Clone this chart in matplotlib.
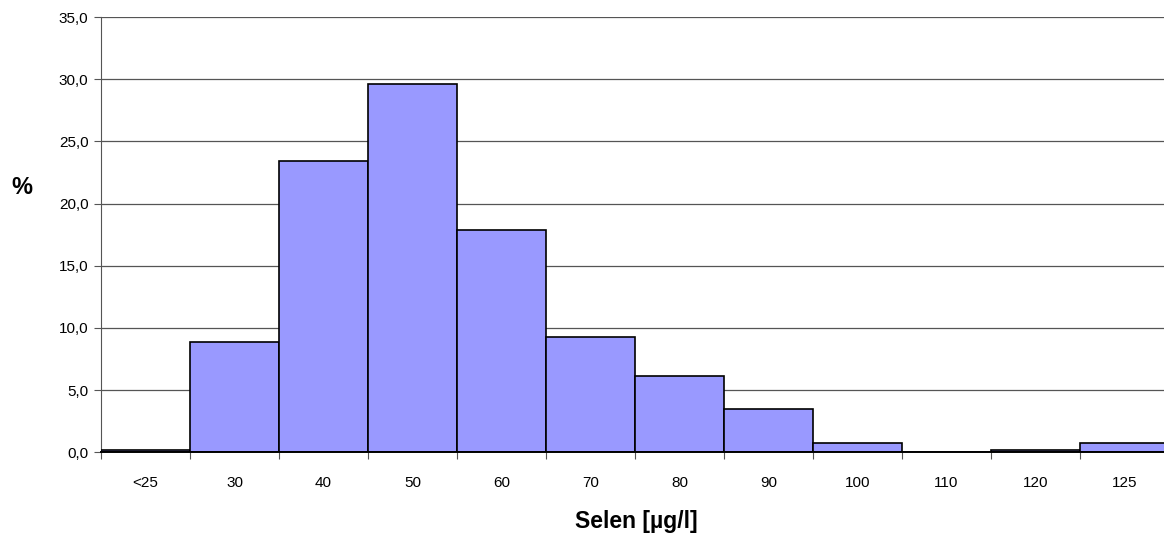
import matplotlib.pyplot as plt
from matplotlib.ticker import FixedLocator, FuncFormatter

plt.rcParams["font.family"] = ["Liberation Sans", "DejaVu Sans"]

# Anteil der Proben je Selen-Klasse
categories = ["<25", "30", "40", "50", "60", "70", "80", "90", "100", "110", "120", "125"]
percent = [0.2, 8.9, 23.4, 29.6, 17.9, 9.3, 6.1, 3.5, 0.7, 0.0, 0.2, 0.7]

BAR = "#9999FF"

fig = plt.figure(figsize=(11.64, 5.37), dpi=100, facecolor="white")
# Plotfläche läuft rechts etwas über den Bildrand hinaus
ax = fig.add_axes([0.0868, 0.158, 0.9175, 0.810])

x = list(range(len(categories)))
ax.bar(x, percent, width=1.0, color=BAR, edgecolor="black", linewidth=1.2, zorder=3)

ax.set_xlim(-0.5, len(categories) - 0.5)
ax.set_ylim(0, 35)
ax.yaxis.set_major_locator(FixedLocator([0, 5, 10, 15, 20, 25, 30, 35]))
ax.yaxis.set_major_formatter(FuncFormatter(lambda v, _: f"{v:.1f}".replace(".", ",")))
ax.grid(axis="y", color="#555555", linewidth=0.9, zorder=0)

# Kategorie-Beschriftungen mittig, Teilstriche an den Klassengrenzen
ax.set_xticks(x)
ax.set_xticklabels(categories)
ax.set_xticks([i - 0.5 for i in range(len(categories) + 1)], minor=True)
ax.tick_params(axis="x", which="major", length=0, pad=17, labelsize=11)
ax.tick_params(axis="x", which="minor", length=5, width=0.8, color="#555555")
ax.tick_params(axis="y", length=5, width=0.8, color="#555555", labelsize=11, pad=4)

for s in ("top", "right"):
    ax.spines[s].set_visible(False)
ax.spines["left"].set_color("#555555")
ax.spines["bottom"].set_color("black")
ax.spines["bottom"].set_linewidth(1.4)
ax.spines["bottom"].set_zorder(4)

fig.text(0.547, 0.017, "Selen [µg/l]", ha="center", va="baseline", fontsize=16.5, weight="bold")
fig.text(0.0185, 0.65, "%", ha="center", va="center", fontsize=17, weight="bold")

fig.savefig("out.png", dpi=100, facecolor="white")
